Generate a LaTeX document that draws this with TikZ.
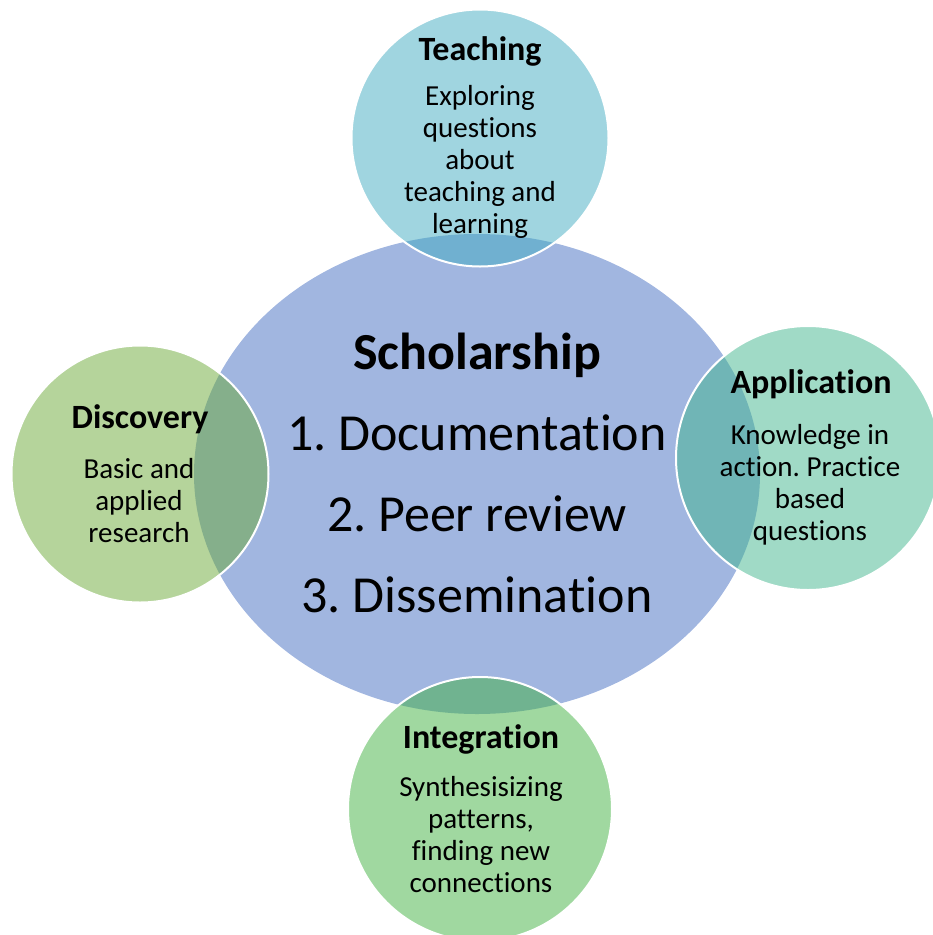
\documentclass[tikz,border=0pt]{standalone}
\usepackage{fontspec}
\setmainfont{Carlito}[Ligatures={NoCommon}]
\usetikzlibrary{shapes.geometric}
\frenchspacing

\definecolor{scholarblue}{RGB}{161,182,224}
\definecolor{teachcol}{RGB}{65,171,193}
\definecolor{discovcol}{RGB}{107,169,55}
\definecolor{applycol}{RGB}{65,181,141}
\definecolor{integcol}{RGB}{65,177,65}

\tikzset{
  bubble/.style={circle, draw=white, line width=2pt, fill opacity=0.5, draw opacity=1, minimum size=#1, inner sep=0pt},
  head/.style={font=\fontsize{34}{40}\selectfont\bfseries, anchor=base, inner sep=0pt},
  body/.style={font=\fontsize{29}{32}\selectfont, align=center, anchor=base, inner sep=0pt}
}

\begin{document}
\begin{tikzpicture}[x=1pt, y=-1pt]
    \useasboundingbox (0,0) rectangle (933,935);

    \node[ellipse, fill=scholarblue, minimum width=566pt, minimum height=480pt] (scholar) at (477,474) {};

    \node[bubble=257pt, fill=teachcol] (teach) at (480,138) {};
    \node[bubble=257pt, fill=discovcol] (discover) at (140,474) {};
    \node[bubble=264pt, fill=applycol] (apply) at (808,458) {};
    \node[bubble=264pt, fill=integcol] (integ) at (480,809) {};

    % multi-line text sits on the baseline of its last line
    \node[font=\fontsize{52}{81}\selectfont, align=center, anchor=base, inner sep=0pt] (scholartxt) at (477,612)
      {\textbf{Scholarship}\\1. Documentation\\2. Peer review\\3. Dissemination};

    \node[head] (teachhead) at (480,60) {Teaching};
    \node[body] (teachtxt) at (480,233) {Exploring\\questions\\about\\teaching and\\learning};

    \node[head] (discoverhead) at (140,428) {Discovery};
    \node[body] (discovertxt) at (139,542) {Basic and\\applied\\research};

    \node[head] (applyhead) at (811,393) {Application};
    \node[body] (applytxt) at (810,540) {Knowledge in\\action. Practice\\based\\questions};

    \node[head] (integhead) at (481,748) {Integration};
    \node[body] (integtxt) at (481,892) {Synthesisizing\\patterns,\\finding new\\connections};
  \end{tikzpicture}
\end{document}
